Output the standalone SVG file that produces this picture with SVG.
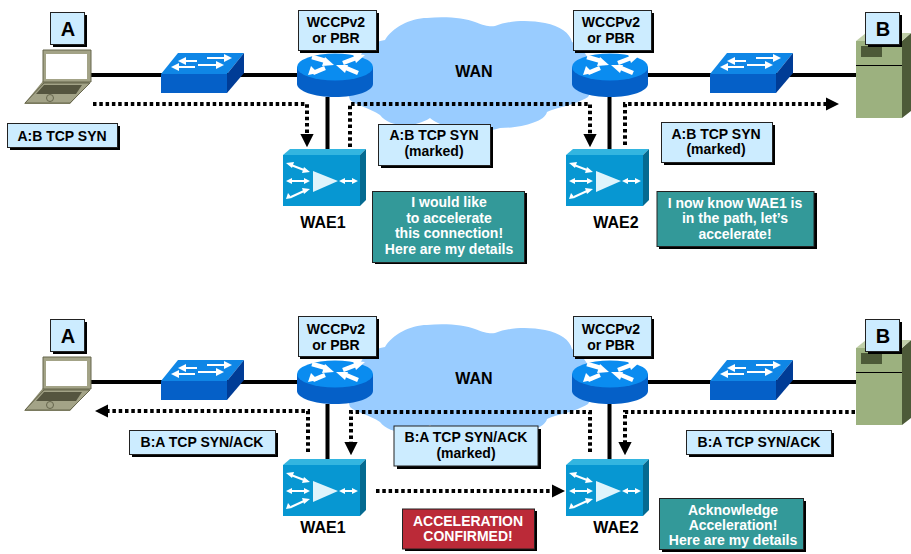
<svg xmlns="http://www.w3.org/2000/svg" width="911" height="554" viewBox="0 0 911 554">
<style>
text{font-family:"Liberation Sans",Arial,sans-serif;font-weight:bold;font-size:14px;text-anchor:middle;fill:#000}
.w{fill:#fff}
.big{font-size:16px}
.ltr{font-size:20px}
.lbl{fill:#ccecff;stroke:#222;stroke-width:1}
.teal{fill:#339999;stroke:#222;stroke-width:1}
.red{fill:#bb2a38;stroke:#222;stroke-width:1}
.sh{fill:#000}
.solid{fill:none;stroke:#000;stroke-width:4}
.dot{fill:none;stroke:#000;stroke-width:4;stroke-dasharray:3.5 2.800}
.head{fill:#000}
.arr{fill:none;stroke:#fff;stroke-width:2}
</style>
<defs>
<path id="cloud" d="M350 100C345 85 345 70 360 60C360 50 372 42 385 40C392 28 410 18 427 18C445 16 465 18 475 22C485 26 490 27 495 26C510 20 530 20 545 23C560 26 570 33 572 42C590 50 600 80 588 97C575 105 555 108 547 112C545 122 520 128 500 128C480 135 440 128 430 118C415 128 390 128 380 115C370 108 355 105 350 100Z" fill="#99ccff"/>
<g id="laptop">
<path d="M43 50H91V81L70 104H24L43 81Z" fill="#8f8f73"/>
<path d="M43 50H91V82H43Z" fill="#a3a387" stroke="#66664d"/>
<rect x="46" y="54" width="41" height="25" fill="#fff"/>
<path d="M44 83H90L70 103H25Z" fill="#a3a387" stroke="#66664d"/>
<path d="M44 85H82L76 94H36Z" fill="#55553f"/>
<circle cx="50" cy="98" r="3.500" fill="none" stroke="#66664d"/>
</g>
<g id="switch">
<path d="M161 74H227L244 53H178Z" fill="#0f86e6"/>
<rect x="161" y="74" width="66" height="19" fill="#0560c8"/>
<path d="M227 74L244 53V73L227 93Z" fill="#003c96"/>
<path class="arr" d="M184 61H197M207 58H226M177 67H195M198 65H218"/>
<path d="M178 61l8-4v8zM232 58l-8-4v8zM171 67l8-4v8zM224 65l-8-4v8z" fill="#fff"/>
</g>
<g id="router">
<path d="M297 67V84C297 91 314 97 335 97S373 91 373 84V67Z" fill="#0560c8"/>
<ellipse cx="335" cy="67" rx="38" ry="13.500" fill="#0a8cf0"/>
<path d="M312 57L326 61M343 63L356 58M325 68L313 73M346 68L358 73" stroke="#fff" stroke-width="4.500" fill="none"/>
<path d="M334 65l-12 1 3-9zM365 55l-12-1 3 9zM308 75l3-9 7 7zM336 65l12 0-3 8z" fill="#fff"/>
</g>
<g id="wae">
<path d="M283 155L290 149H366L360 155Z" fill="#33b5e0"/>
<rect x="283" y="155" width="77" height="51" fill="#0797d2"/>
<path d="M360 155L366 149V200L360 206Z" fill="#046a91"/>
<path d="M313 171L338 181L313 192Z" fill="#dff4fc"/>
<path class="arr" d="M291 165L304 170M291 181H304M291 197L304 191M344 181H353"/>
<path d="M286 163l8-1-2 6zM310 172l-8 1 2-6zM286 181l6-3v6zM310 181l-6-3v6zM286 199l2-6 4 5zM310 189l-8-1 2 6zM339 181l6-3v6zM358 181l-6-3v6z" fill="#fff"/>
</g>
<g id="server">
<path d="M856 41H902V118H856Z" fill="#9cb17f"/>
<path d="M902 41L911 33V111L902 118Z" fill="#4d5a38"/>
<path d="M856 41L866 33H911L902 41Z" fill="#c0cfa8"/>
<rect x="861" y="46" width="21" height="11" fill="#4d5a38"/>
<path d="M856 65.500H902" stroke="#000" stroke-width="1"/>
</g>
<marker id="ah" viewBox="0 0 10 10" refX="1" refY="5" markerWidth="3.4" markerHeight="3.4" orient="auto"><path d="M0 0L10 5L0 10Z" class="head"/></marker>
</defs>

<use id="cloud1" href="#cloud"/>
<use id="cloud2" href="#cloud" y="307"/>

<g id="connectors">
<path class="solid" d="M91 75H297M648 75H856M327.500 97V149M609.500 97V149"/>
<path class="solid" d="M91 382H297M648 382H856M327.500 404V459M609.500 404V459"/>
<path class="dot" marker-end="url(#ah)" d="M93 104H307V135"/>
<path class="dot" marker-end="url(#ah)" d="M350 147V104H590V135"/>
<path class="dot" marker-end="url(#ah)" d="M625 145V104H827"/>
<path class="dot" marker-end="url(#ah)" d="M308 452V411H107"/>
<path class="dot" marker-end="url(#ah)" d="M590 452V412H351V443"/>
<path class="dot" marker-end="url(#ah)" d="M855 412H625V443"/>
<path class="dot" marker-end="url(#ah)" d="M376 491H553"/>
</g>

<g id="laptopA1"><use href="#laptop"/></g>
<g id="switch1"><use href="#switch"/></g>
<g id="router1"><use href="#router"/></g>
<g id="router2"><use href="#router" x="275"/></g>
<g id="switch2"><use href="#switch" x="549"/></g>
<g id="server1"><use href="#server"/></g>
<g id="wae1"><use href="#wae"/><text class="big" x="323" y="228">WAE1</text></g>
<g id="wae2"><use href="#wae" x="283"/><text class="big" x="616" y="228">WAE2</text></g>

<g id="laptopA2"><use href="#laptop" y="307"/></g>
<g id="switch3"><use href="#switch" y="307"/></g>
<g id="router3"><use href="#router" y="307"/></g>
<g id="router4"><use href="#router" x="275" y="307"/></g>
<g id="switch4"><use href="#switch" x="549" y="307"/></g>
<g id="server2"><use href="#server" y="307"/></g>
<g id="wae3"><use href="#wae" y="310"/><text class="big" x="323" y="533">WAE1</text></g>
<g id="wae4"><use href="#wae" x="283" y="310"/><text class="big" x="616" y="533">WAE2</text></g>

<g id="boxA1"><rect class="sh" x="53" y="15" width="34" height="32"/><rect class="lbl" x="50.500" y="12.500" width="34" height="32"/><text class="ltr" x="68" y="36">A</text></g>
<g id="boxB1"><rect class="sh" x="868" y="15" width="34" height="32"/><rect class="lbl" x="865.500" y="12.500" width="34" height="32"/><text class="ltr" x="883" y="36">B</text></g>
<g id="boxA2"><rect class="sh" x="53" y="322" width="34" height="32"/><rect class="lbl" x="50.500" y="319.500" width="34" height="32"/><text class="ltr" x="68" y="343">A</text></g>
<g id="boxB2"><rect class="sh" x="868" y="322" width="34" height="32"/><rect class="lbl" x="865.500" y="319.500" width="34" height="32"/><text class="ltr" x="883" y="343">B</text></g>

<g id="pbr1"><rect class="sh" x="300" y="13" width="79" height="40"/><rect class="lbl" x="298.500" y="10.500" width="78" height="40"/><text x="336" y="27">WCCPv2</text><text x="336" y="43">or PBR</text></g>
<g id="pbr2"><rect class="sh" x="575" y="13" width="79" height="40"/><rect class="lbl" x="573.500" y="10.500" width="78" height="40"/><text x="611" y="27">WCCPv2</text><text x="611" y="43">or PBR</text></g>
<g id="pbr3"><rect class="sh" x="300" y="319" width="79" height="40"/><rect class="lbl" x="298.500" y="316.500" width="78" height="40"/><text x="336" y="334">WCCPv2</text><text x="336" y="350">or PBR</text></g>
<g id="pbr4"><rect class="sh" x="575" y="319" width="79" height="40"/><rect class="lbl" x="573.500" y="316.500" width="78" height="40"/><text x="611" y="334">WCCPv2</text><text x="611" y="350">or PBR</text></g>

<text class="big" x="474" y="77">WAN</text>
<text class="big" x="474" y="384">WAN</text>

<g id="syn1"><rect class="sh" x="10" y="126" width="110" height="24"/><rect class="lbl" x="7.500" y="123.500" width="110" height="24"/><text x="62" y="141">A:B TCP SYN</text></g>
<g id="syn2"><rect class="sh" x="381" y="127" width="112" height="41"/><rect class="lbl" x="378.500" y="124.500" width="112" height="41"/><text x="434" y="140">A:B TCP SYN</text><text x="434" y="156">(marked)</text></g>
<g id="syn3"><rect class="sh" x="664" y="125" width="111" height="40"/><rect class="lbl" x="661.500" y="122.500" width="111" height="40"/><text x="716" y="139">A:B TCP SYN</text><text x="716" y="154">(marked)</text></g>

<g id="msg1"><rect class="sh" x="375" y="193" width="152" height="71"/><rect class="teal" x="372.500" y="191.500" width="152" height="71"/><text class="w" x="449" y="207">I would like</text><text class="w" x="449" y="223">to accelerate</text><text class="w" x="449" y="238">this connection!</text><text class="w" x="449" y="254">Here are my details</text></g>
<g id="msg2"><rect class="sh" x="659" y="193" width="158" height="56"/><rect class="teal" x="657" y="191.500" width="157" height="55"/><text class="w" x="735" y="208">I now know WAE1 is</text><text class="w" x="735" y="223">in the path, let’s</text><text class="w" x="735" y="239">accelerate!</text></g>

<g id="ack1"><rect class="sh" x="132" y="433" width="146" height="24"/><rect class="lbl" x="129.500" y="430.500" width="146" height="24"/><text x="202" y="447">B:A TCP SYN/ACK</text></g>
<g id="ack2"><rect class="sh" x="397" y="429" width="144" height="40"/><rect class="lbl" x="394" y="426" width="144" height="40"/><text x="466" y="442">B:A TCP SYN/ACK</text><text x="466" y="458">(marked)</text></g>
<g id="ack3"><rect class="sh" x="689" y="433" width="145" height="24"/><rect class="lbl" x="686.500" y="430.500" width="145" height="24"/><text x="759" y="447">B:A TCP SYN/ACK</text></g>
<g id="confirm"><rect class="sh" x="405" y="511" width="132" height="40"/><rect class="red" x="402.500" y="509" width="132" height="40"/><text class="w" x="468" y="526">ACCELERATION</text><text class="w" x="468" y="541">CONFIRMED!</text></g>
<g id="msg3"><rect class="sh" x="662" y="501" width="144" height="51"/><rect class="teal" x="659.500" y="498.500" width="144" height="51"/><text class="w" x="733" y="515">Acknowledge</text><text class="w" x="733" y="530">Acceleration!</text><text class="w" x="733" y="545">Here are my details</text></g>
</svg>
